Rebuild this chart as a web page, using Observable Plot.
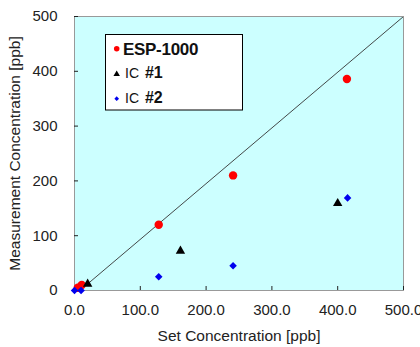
<!DOCTYPE html>
<html>
<head>
<meta charset="utf-8">
<script src="https://cdn.jsdelivr.net/npm/d3@7"></script>
<script src="https://cdn.jsdelivr.net/npm/@observablehq/plot@0.6"></script>
<style>
  html, body { margin: 0; padding: 0; background: #fff; }
  #wrap { position: relative; width: 420px; height: 347px; overflow: hidden; }
  #legend { position: absolute; left: 0; top: 0; pointer-events: none; }
</style>
</head>
<body>
<div id="wrap"></div>
<script>
// ---- data ----
const espX = [5, 11, 128, 241, 414];
const espY = [5, 10, 120, 210, 386];
const ic1X = [20, 161, 400];
const ic1Y = [12, 72, 159];
const ic2X = [0, 10, 128, 241, 415];
const ic2Y = [0, 0, 25, 45, 169];
const refX = [20, 500];
const refY = [12, 500];
const xTicks = [0, 100, 200, 300, 400, 500];
const yTicks = [0, 100, 200, 300, 400, 500];
const seriesNames = ["ESP-1000", "IC ", "IC "];
const seriesBold = ["", "#1", "#2"];

const esp = espX.map((x, i) => ({x, y: espY[i]}));
const ic1 = ic1X.map((x, i) => ({x, y: ic1Y[i]}));
const ic2 = ic2X.map((x, i) => ({x, y: ic2Y[i]}));
const ref = refX.map((x, i) => ({x, y: refY[i]}));

const font = "'Liberation Sans', Arial, sans-serif";

const chart = Plot.plot({
  width: 420,
  height: 347,
  marginLeft: 74,
  marginRight: 17,
  marginTop: 16,
  marginBottom: 57,
  style: {fontFamily: font, fontSize: "15px", color: "#222", background: "#fff"},
  x: {domain: [0, 500]},
  y: {domain: [0, 500]},
  marks: [
    Plot.frame({fill: "#ccffff", stroke: null}),
    Plot.line(ref, {x: "x", y: "y", stroke: "#333", strokeWidth: 0.9}),
    Plot.frame({stroke: "#999", strokeWidth: 1}),
    // inward ticks
    Plot.axisX({ticks: xTicks, tickSize: 4, dy: -4, text: null, label: null, stroke: "#222"}),
    Plot.axisY({ticks: yTicks, tickSize: 4, dx: 4, text: null, label: null, stroke: "#222"}),
    // tick labels
    Plot.axisX({ticks: xTicks, tickSize: 0, tickPadding: 14, tickFormat: d => d.toFixed(1), label: null, fontSize: 15, fill: "#222"}),
    Plot.axisY({ticks: yTicks, tickSize: 0, tickPadding: 17, tickFormat: d => String(d), label: null, fontSize: 15, fill: "#222"}),
    // titles
    Plot.text(["Set Concentration [ppb]"], {frameAnchor: "bottom", dy: 50, fontSize: 15.5, fill: "#222", textAnchor: "middle"}),
    Plot.text(["Measurement Concentration [ppb]"], {frameAnchor: "left", dx: -59, rotate: -90, fontSize: 15.5, fill: "#222", textAnchor: "middle"}),
    // data
    Plot.dot(esp, {x: "x", y: "y", r: 4.2, fill: "#ff0000", stroke: null}),
    Plot.dot(ic1, {x: "x", y: "y", r: 3.5, symbol: "triangle", fill: "#000", stroke: null}),
    Plot.dot(ic2, {x: "x", y: "y", r: 3.4, symbol: "diamond2", fill: "#0000ee", stroke: null})
  ]
});

const wrap = document.getElementById("wrap");
wrap.appendChild(chart);

// ---- legend overlay ----
const svg = d3.select(wrap).append("svg")
  .attr("id", "legend")
  .attr("width", 420).attr("height", 347)
  .style("font-family", font);

svg.append("rect")
  .attr("x", 105.5).attr("y", 34.5).attr("width", 137).attr("height", 75.5)
  .attr("fill", "#fff").attr("stroke", "#000").attr("stroke-width", 1);

const mx = 116.7;
svg.append("path").attr("d", d3.symbol(d3.symbolCircle, 24)()).attr("transform", `translate(${mx},48.7)`).attr("fill", "#ff0000");
svg.append("path").attr("d", d3.symbol(d3.symbolTriangle, 18)()).attr("transform", `translate(${mx},74.2)`).attr("fill", "#000");
svg.append("path").attr("d", d3.symbol(d3.symbolDiamond2, 14)()).attr("transform", `translate(${mx},98.7)`).attr("fill", "#0000ee");

svg.append("text").attr("x", 123).attr("y", 54.8)
  .attr("font-size", 17).attr("font-weight", "bold").attr("fill", "#111")
  .attr("letter-spacing", -0.3).text(seriesNames[0]);

[[77.5, 1], [102.5, 2]].forEach(([y, i]) => {
  const t = svg.append("text").attr("x", 125).attr("y", y).attr("fill", "#111");
  t.append("tspan").attr("font-size", 14).text(seriesNames[i]);
  t.append("tspan").attr("font-size", 16).attr("font-weight", "bold").attr("dx", 2).text(seriesBold[i]);
});
</script>
</body>
</html>
